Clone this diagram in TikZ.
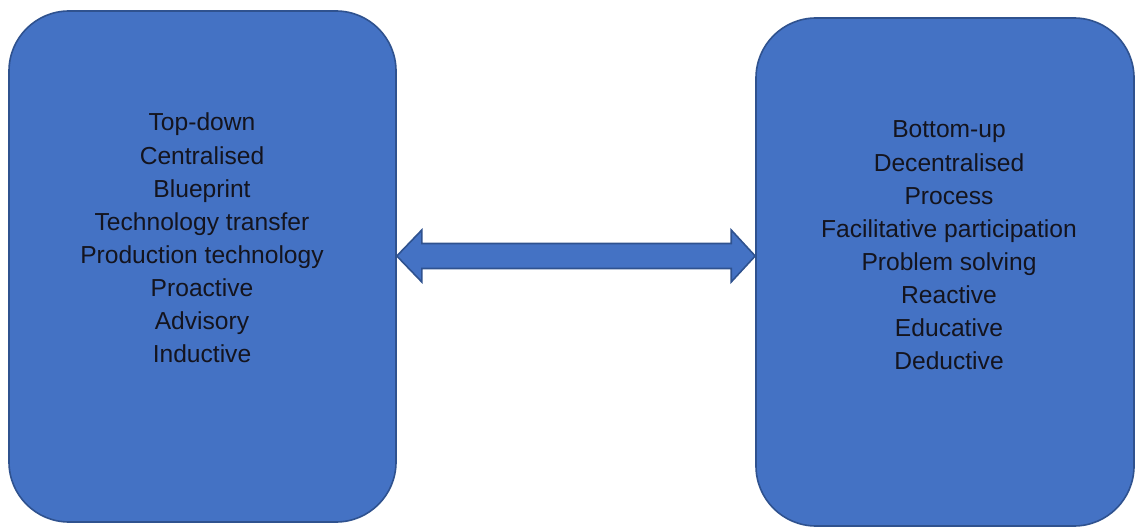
\documentclass[tikz,border=0pt]{standalone}
\usepackage{fontspec}
\setmainfont{Liberation Sans}
\usetikzlibrary{calc}
\definecolor{boxfill}{HTML}{4472C4}
\definecolor{boxline}{HTML}{2F528F}
\definecolor{labeltext}{HTML}{14141E}
\tikzset{
  panel/.style={draw=boxline, line width=1.6pt, fill=boxfill,
    rounded corners=60pt, inner sep=0pt},
  itemlist/.style={align=center, inner sep=0pt, text=labeltext,
    font=\fontsize{24.6}{33.1}\selectfont},
  twoway/.style={draw=boxline, line width=1.6pt, fill=boxfill, line join=miter}
}
\begin{document}
\begin{tikzpicture}[x=1pt, y=-1pt]
\useasboundingbox (0,0) rectangle (1135,527);

% the two approach panels
\node[panel, minimum width=387pt, minimum height=511pt] (L) at (202.5,266.5) {};
\node[panel, minimum width=378pt, minimum height=508pt] (R) at (945,272) {};

% their lists
\node[itemlist] (Ltext) at (202,238) {Top-down\\Centralised\\Blueprint\\Technology transfer\\Production technology\\Proactive\\Advisory\\Inductive};
\node[itemlist] (Rtext) at (949,245.5) {Bottom-up\\Decentralised\\Process\\Facilitative participation\\Problem solving\\Reactive\\Educative\\Deductive};

% block double arrow between the panels
\coordinate (mid) at (576,256);
\coordinate (tipL) at (L.east |- mid);
\coordinate (tipR) at (R.west |- mid);
\draw[twoway] (tipL) -- ++(25,-26) -- ++(0,13.5) -- ($(tipR)+(-24,-12.5)$)
  -- ++(0,-13.5) -- (tipR) -- ++(-24,26) -- ++(0,-13.5)
  -- ($(tipL)+(25,12.5)$) -- ++(0,13.5) -- cycle;
\end{tikzpicture}
\end{document}
